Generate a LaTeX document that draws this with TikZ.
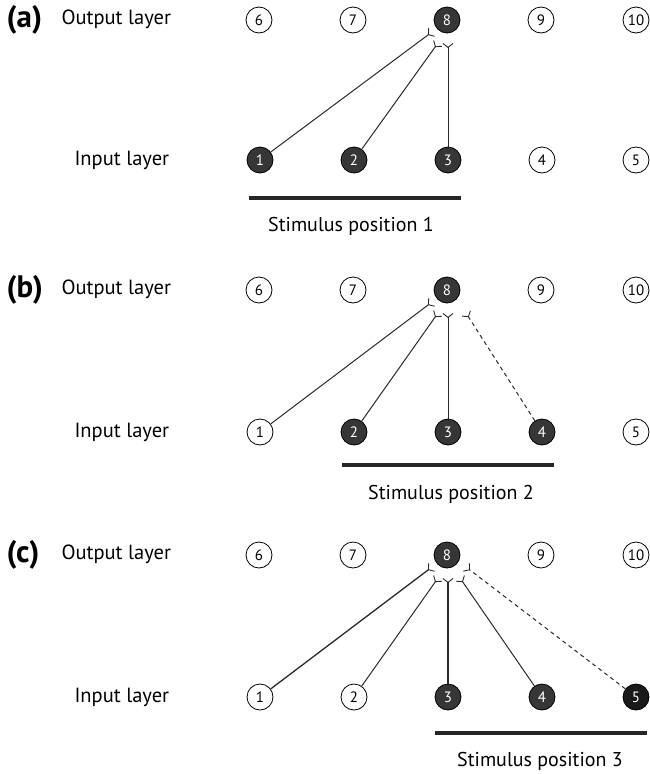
\documentclass[tikz,border=0pt]{standalone}
\usepackage{fontspec}
\setmainfont{PT Sans}
\usetikzlibrary{arrows.meta}
\definecolor{cellfill}{HTML}{363636}
\definecolor{linegray}{HTML}{2A2A2A}
\tikzset{
  synapse/.tip={Straight Barb[reversed,length=4pt,width=10pt,line width=0.9pt]},
  cell/.style={circle,draw=black,line width=0.8pt,minimum size=26pt,inner sep=0pt,font=\fontsize{15}{15}\selectfont},
  idle/.style={cell,fill=white,text=black},
  active/.style={cell,fill=cellfill,text=white},
  link/.style={draw=linegray,line width=1pt,-synapse},
  weak/.style={link,dash pattern=on 4pt off 3.5pt},
  layerlabel/.style={anchor=west,font=\fontsize{20.5}{20.5}\selectfont},
  panellabel/.style={anchor=west,font=\fontsize{31}{31}\selectfont\bfseries},
  bar/.style={line width=4.5pt,draw=black!85},
  stimlabel/.style={font=\fontsize{20}{20}\selectfont}
}
\begin{document}
\begin{tikzpicture}[x=1pt,y=-1pt]
\useasboundingbox (0,0) rectangle (649,774);

% ---------- panel (a) ----------
\node[panellabel] (a-tag) at (3,20) {(a)};
\node[layerlabel] (a-out) at (58,19) {Output layer};
\node[layerlabel] (a-in) at (71,160) {Input layer};
\node[idle] (a6) at (259,20) {6};
\node[idle] (a7) at (353,20) {7};
\node[active] (a8) at (447,20) {8};
\node[idle] (a9) at (541,20) {9};
\node[idle] (a10) at (636,20) {10};
\node[active] (a1) at (260,160) {1};
\node[active] (a2) at (354,160) {2};
\node[active] (a3) at (448,160) {3};
\node[idle] (a4) at (542,160) {4};
\node[idle] (a5) at (636,160) {5};
\path (a8) ++(-15,12) coordinate (a-s1) ++(6,11) coordinate (a-s2);
\path (a8) ++(1,23) coordinate (a-s3);
\draw[link] (a1) -- (a-s1);
\draw[link] (a2) -- (a-s2);
\draw[link] (a3) -- (a-s3);
\coordinate (a-b0) at (249,198);
\coordinate (a-b1) at (461,198);
\draw[bar] (a-b0) -- (a-b1);
\node[stimlabel] (a-stim) at (351,226) {Stimulus position 1};

% ---------- panel (b) ----------
\node[panellabel] (b-tag) at (3,290) {(b)};
\node[layerlabel] (b-out) at (58,289) {Output layer};
\node[layerlabel] (b-in) at (71,432) {Input layer};
\node[idle] (b6) at (259,290) {6};
\node[idle] (b7) at (353,290) {7};
\node[active] (b8) at (447,290) {8};
\node[idle] (b9) at (541,290) {9};
\node[idle] (b10) at (636,290) {10};
\node[idle] (b1) at (260,432) {1};
\node[active] (b2) at (354,432) {2};
\node[active] (b3) at (448,432) {3};
\node[active] (b4) at (542,432) {4};
\node[idle] (b5) at (636,432) {5};
\path (b8) ++(-15,12) coordinate (b-s1) ++(6,11) coordinate (b-s2);
\path (b8) ++(1,23) coordinate (b-s3);
\path (b8) ++(19,23) coordinate (b-s4);
\draw[link] (b1) -- (b-s1);
\draw[link] (b2) -- (b-s2);
\draw[link] (b3) -- (b-s3);
\draw[weak] (b4) -- (b-s4);
\coordinate (b-b0) at (342,465);
\coordinate (b-b1) at (554,465);
\draw[bar] (b-b0) -- (b-b1);
\node[stimlabel] (b-stim) at (451,494) {Stimulus position 2};

% ---------- panel (c) ----------
\node[panellabel] (c-tag) at (3,555) {(c)};
\node[layerlabel] (c-out) at (58,554) {Output layer};
\node[layerlabel] (c-in) at (71,697) {Input layer};
\node[idle] (c6) at (259,555) {6};
\node[idle] (c7) at (353,555) {7};
\node[active] (c8) at (447,555) {8};
\node[idle] (c9) at (541,555) {9};
\node[idle] (c10) at (636,555) {10};
\node[idle] (c1) at (260,697) {1};
\node[idle] (c2) at (354,697) {2};
\node[active] (c3) at (448,697) {3};
\node[active] (c4) at (542,697) {4};
\node[active,fill=black!90] (c5) at (636,697) {5};
\path (c8) ++(-15,12) coordinate (c-s1) ++(6,11) coordinate (c-s2);
\path (c8) ++(1,23) coordinate (c-s3);
\path (c8) ++(13,23) coordinate (c-s4);
\path (c8) ++(19,12) coordinate (c-s5);
\draw[link,line width=1.3pt] (c1) -- (c-s1);
\draw[link] (c2) -- (c-s2);
\draw[link,line width=1.3pt] (c3) -- (c-s3);
\draw[link] (c4) -- (c-s4);
\draw[weak] (c5) -- (c-s5);
\coordinate (c-b0) at (435,733);
\coordinate (c-b1) at (647,733);
\draw[bar] (c-b0) -- (c-b1);
\node[stimlabel] (c-stim) at (540,761) {Stimulus position 3};
\end{tikzpicture}
\end{document}
